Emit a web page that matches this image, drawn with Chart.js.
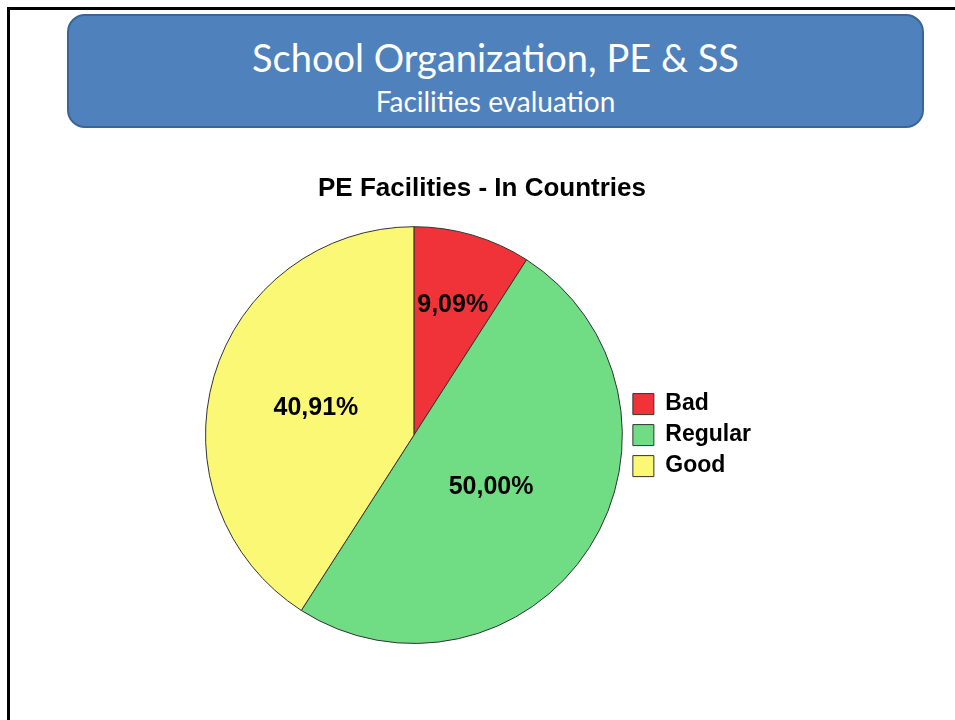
<!DOCTYPE html>
<html>
<head>
<meta charset="utf-8">
<script src="https://cdn.jsdelivr.net/npm/chart.js@4.4.1/dist/chart.umd.min.js"></script>
<style>
  html, body { margin: 0; padding: 0; background: #fff; }
  body { width: 955px; height: 720px; position: relative; overflow: hidden; }
  #slide {
    position: absolute; left: 7px; top: 7px; right: -10px; bottom: -10px;
    border-top: 3px solid #000; border-left: 3px solid #000;
  }
  #header {
    position: absolute; left: 67px; top: 14px; width: 853px; height: 110px;
    background: #4f81bd; border: 2px solid #3a6594; border-radius: 18px;
    color: #fff; text-align: center; font-family: Lato, "Open Sans", sans-serif;
  }
  #header .t1 { position: absolute; left: 0; right: 0; top: 19px; font-size: 38px; line-height: 44px; }
  #header .t2 { position: absolute; left: 0; right: 0; top: 69px; font-size: 28px; line-height: 32px; }
  #wrap { position: absolute; left: 0; top: 164px; width: 955px; height: 480px; }
</style>
</head>
<body>
<div id="slide"></div>
<div id="header">
  <div class="t1">School Organization, PE &amp; SS</div>
  <div class="t2">Facilities evaluation</div>
</div>
<div id="wrap"><canvas id="pie"></canvas></div>
<script>
const categories = ['Bad', 'Regular', 'Good'];
const shares = [9.09, 50.00, 40.91];
const sliceColors = ['#ef3339', '#70dd85', '#fbf876'];

// where each percentage sits, as a fraction of the radius along the slice middle
const labelRadius = [0.66, 0.44, 0.49];

const sliceLabels = {
    id: 'sliceLabels',
    afterDatasetsDraw(chart) {
        const ctx = chart.ctx;
        const meta = chart.getDatasetMeta(0);
        ctx.save();
        ctx.font = 'bold 25px "Liberation Sans", Arial, sans-serif';
        ctx.fillStyle = '#000';
        ctx.textAlign = 'center';
        ctx.textBaseline = 'middle';
        meta.data.forEach((arc, i) => {
            const p = arc.getProps(['x', 'y', 'startAngle', 'endAngle', 'outerRadius'], true);
            const mid = (p.startAngle + p.endAngle) / 2;
            const r = p.outerRadius * labelRadius[i];
            const text = shares[i].toFixed(2).replace('.', ',') + '%';
            ctx.fillText(text, p.x + Math.cos(mid) * r, p.y + Math.sin(mid) * r + 2);
        });
        ctx.restore();
    }
};

new Chart(document.getElementById('pie'), {
    type: 'pie',
    data: {
        labels: categories,
        datasets: [{
            data: shares,
            backgroundColor: sliceColors,
            borderColor: '#333333',
            borderWidth: 1
        }]
    },
    options: {
        responsive: true,
        maintainAspectRatio: false,
        animation: false,
        layout: { padding: { left: 203, right: 194, top: 0, bottom: 0 } },
        plugins: {
            title: {
                display: true,
                text: 'PE Facilities - In Countries',
                color: '#000',
                font: { family: '"Liberation Sans", Arial, sans-serif', size: 26, weight: 'bold' },
                padding: { top: 9, bottom: 22 }
            },
            legend: {
                position: 'right',
                fullSize: false,
                labels: {
                    color: '#000',
                    font: { family: '"Liberation Sans", Arial, sans-serif', size: 23, weight: 'bold' },
                    boxWidth: 21,
                    boxHeight: 21,
                    padding: 8
                }
            },
            tooltip: { enabled: false }
        }
    },
    plugins: [sliceLabels]
});
</script>
</body>
</html>
